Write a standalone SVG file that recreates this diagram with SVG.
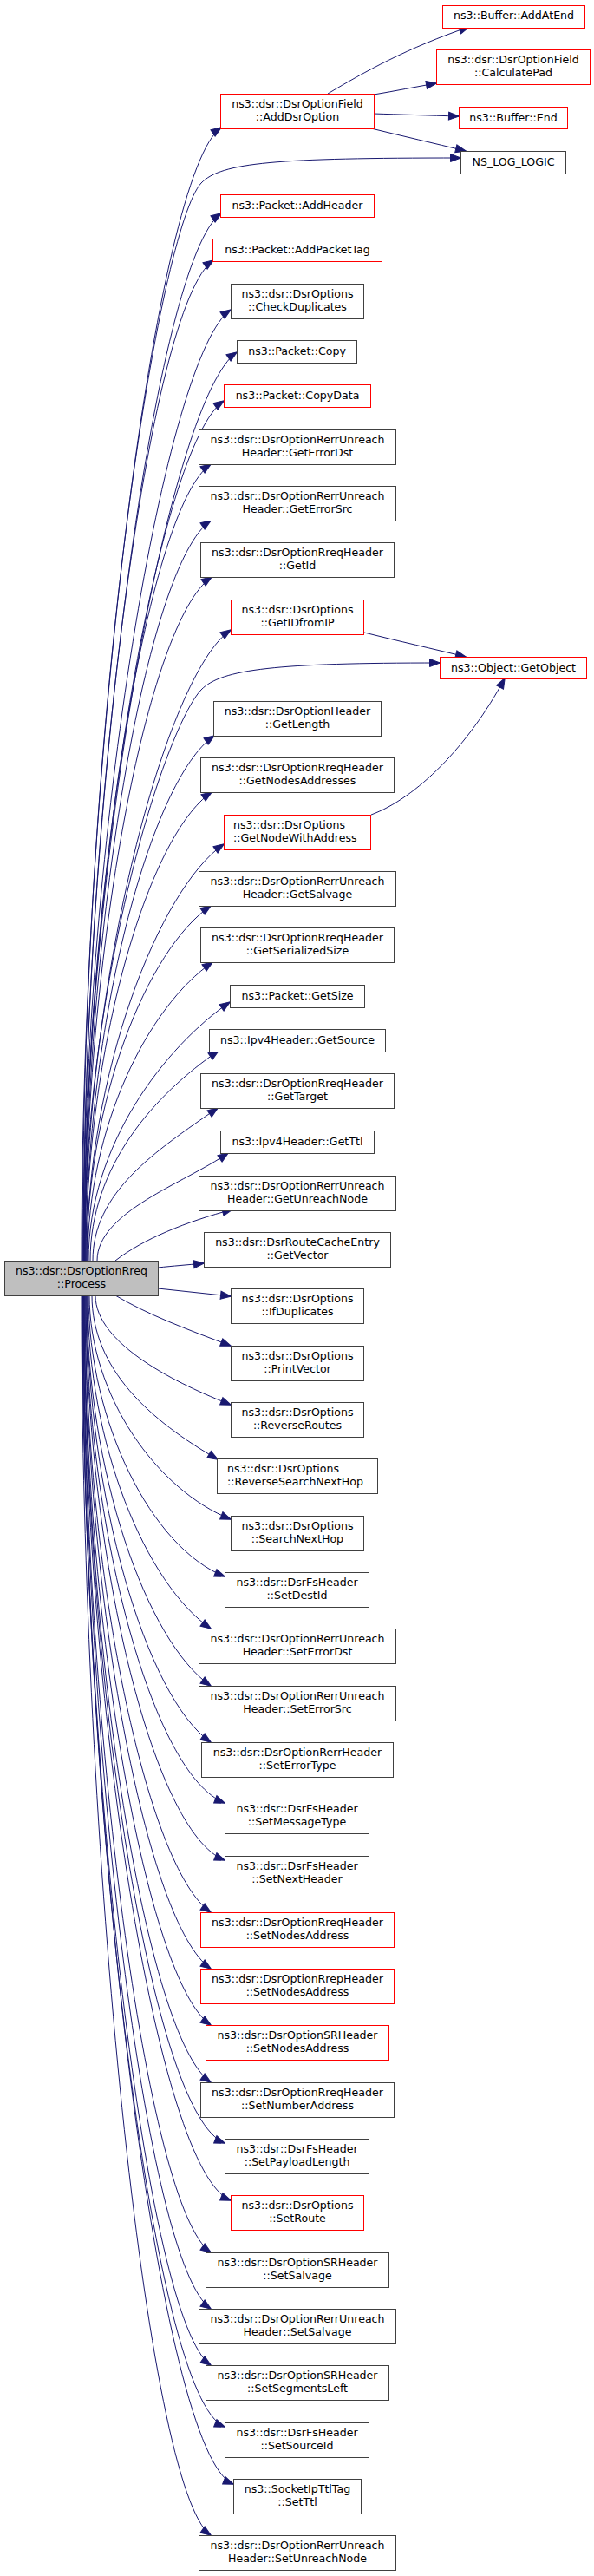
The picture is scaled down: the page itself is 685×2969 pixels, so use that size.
<svg xmlns="http://www.w3.org/2000/svg" width="685" height="2969" viewBox="0 0 685 2969">
<style>
.node rect{fill:#ffffff;stroke:#404040;stroke-width:1}
.node.red rect{stroke:#ff0000}
.node.main rect{fill:#bfbfbf;stroke:#404040}
.node text{font-family:"DejaVu Sans","Liberation Sans",sans-serif;font-size:12.6px;fill:#000000;text-anchor:middle}
.node text.l{text-anchor:start}
.edges path{fill:none;stroke:#191970;stroke-width:1;marker-end:url(#arr)}
</style>
<defs>
<marker id="arr" viewBox="0 0 12 9" refX="11.5" refY="4.5" markerWidth="12" markerHeight="9" markerUnits="userSpaceOnUse" orient="auto" overflow="visible">
<path d="M0,0 L12,4.5 L0,9 z" fill="#191970" stroke="#191970" stroke-width="1"/>
</marker>
</defs>
<rect x="0" y="0" width="685" height="2969" fill="#ffffff"/>
<g id="edges" class="edges">
<path d="M94,1453 C94,865 181,198 255,147"/>
<path d="M95,1453 C95,800 185,262 232,211 C255,187 320,182 531,182"/>
<path d="M96,1453 C96,910 181,297 255,246"/>
<path d="M96,1453 C96,934 172,351 246,300"/>
<path d="M96,1453 C96,960 192,408 266,357"/>
<path d="M97,1453 C97,982 199,457 273,406"/>
<path d="M97,1453 C97,1007 184,513 258,462"/>
<path d="M97,1453 C97,1040 169,586 243,535"/>
<path d="M98,1453 C98,1069 169,651 243,600"/>
<path d="M98,1453 C98,1098 170,716 244,665"/>
<path d="M98,1453 C98,1126 192,777 266,726"/>
<path d="M97,1453 C97,1130 190,840 232,795 C255,771 320,764 507,764"/>
<path d="M99,1453 C99,1181 173,899 247,848"/>
<path d="M99,1453 C99,1210 170,964 244,913"/>
<path d="M100,1453 C100,1237 184,1024 258,973"/>
<path d="M100,1453 C100,1269 169,1095 243,1044"/>
<path d="M101,1453 C101,1298 171,1160 245,1109"/>
<path d="M102,1453 C102,1319 191,1206 265,1155"/>
<path d="M104,1453 C104,1344 178,1262 252,1211"/>
<path d="M107,1453 C107,1374 179,1327 251,1277"/>
<path d="M112,1453 C112,1397 212,1364 263,1329"/>
<path d="M133,1453 C165,1428 215,1408 268,1394"/>
<path d="M182,1461 C200,1459 215,1458 235,1456"/>
<path d="M182,1485 C210,1488 238,1491 266,1494"/>
<path d="M133,1493 C170,1515 215,1532 266,1551"/>
<path d="M110,1493 C110,1550 207,1596 266,1619"/>
<path d="M106,1493 C106,1578 173,1637 251,1682"/>
<path d="M103,1493 C103,1609 182,1718 266,1751"/>
<path d="M102,1493 C102,1639 175,1784 259,1817"/>
<path d="M101,1493 C101,1666 169,1826 243,1877"/>
<path d="M100,1493 C100,1696 169,1892 243,1943"/>
<path d="M100,1493 C100,1725 169,1957 243,2008"/>
<path d="M99,1493 C99,1756 175,2045 259,2078"/>
<path d="M99,1493 C99,1786 175,2111 259,2144"/>
<path d="M98,1493 C98,1813 169,2153 243,2204"/>
<path d="M98,1493 C98,1842 169,2218 243,2269"/>
<path d="M97,1493 C97,1871 169,2283 243,2334"/>
<path d="M97,1493 C97,1901 169,2349 243,2400"/>
<path d="M97,1493 C97,1933 175,2437 259,2470"/>
<path d="M96,1493 C96,1962 182,2503 266,2536"/>
<path d="M96,1493 C96,1989 169,2545 243,2596"/>
<path d="M96,1493 C96,2019 169,2610 243,2661"/>
<path d="M95,1493 C95,2048 169,2675 243,2726"/>
<path d="M95,1493 C95,2080 175,2764 259,2797"/>
<path d="M95,1493 C95,2110 185,2830 269,2863"/>
<path d="M94,1493 C94,2136 169,2871 243,2922"/>
<path d="M378,108 C420,83 470,55 541,31"/>
<path d="M431,109 C455,105 480,100 503,96"/>
<path d="M431,131 C460,132 495,133 529,134"/>
<path d="M428,148 C465,157 500,165 537,174"/>
<path d="M420,729 C460,739 500,748 537,757"/>
<path d="M428,939 C480,920 540,860 582,782"/>
</g>
<g id="n_addatend" class="node red"><rect x="510.5" y="6.5" width="164" height="26"/><text x="592.5" y="22.2">ns3::Buffer::AddAtEnd</text></g>
<g id="n_calculatepad" class="node red"><rect x="503.5" y="57.5" width="177" height="40"/><text x="592" y="73">ns3::dsr::DsrOptionField</text><text x="592" y="87.7">::CalculatePad</text></g>
<g id="n_adddsroption" class="node red"><rect x="254.5" y="108.5" width="177" height="40"/><text x="343" y="124">ns3::dsr::DsrOptionField</text><text x="343" y="138.7">::AddDsrOption</text></g>
<g id="n_bufferend" class="node red"><rect x="529.5" y="123.5" width="125" height="25"/><text x="592" y="139.5">ns3::Buffer::End</text></g>
<g id="n_nsloglogic" class="node"><rect x="531.5" y="174.5" width="121" height="26"/><text x="592" y="190.7">NS_LOG_LOGIC</text></g>
<g id="n_addheader" class="node red"><rect x="254.5" y="224.5" width="177" height="26"/><text x="343" y="240.7">ns3::Packet::AddHeader</text></g>
<g id="n_addpackettag" class="node red"><rect x="245.5" y="275.5" width="195" height="26"/><text x="343" y="291.7">ns3::Packet::AddPacketTag</text></g>
<g id="n_checkduplicates" class="node"><rect x="266.5" y="327.5" width="153" height="40"/><text x="343" y="343">ns3::dsr::DsrOptions</text><text x="343" y="357.7">::CheckDuplicates</text></g>
<g id="n_copy" class="node"><rect x="273.5" y="392.5" width="138" height="26"/><text x="342.5" y="408.7">ns3::Packet::Copy</text></g>
<g id="n_copydata" class="node red"><rect x="258.5" y="443.5" width="169" height="26"/><text x="343" y="459.7">ns3::Packet::CopyData</text></g>
<g id="n_geterrordst" class="node"><rect x="229.5" y="495.5" width="227" height="40"/><text x="343" y="511">ns3::dsr::DsrOptionRerrUnreach</text><text x="343" y="525.7">Header::GetErrorDst</text></g>
<g id="n_geterrorsrc" class="node"><rect x="229.5" y="560.5" width="227" height="40"/><text x="343" y="576">ns3::dsr::DsrOptionRerrUnreach</text><text x="343" y="590.7">Header::GetErrorSrc</text></g>
<g id="n_getid" class="node"><rect x="231.5" y="625.5" width="223" height="40"/><text x="343" y="641">ns3::dsr::DsrOptionRreqHeader</text><text x="343" y="655.7">::GetId</text></g>
<g id="n_getidfromip" class="node red"><rect x="266.5" y="691.5" width="153" height="40"/><text x="343" y="707">ns3::dsr::DsrOptions</text><text x="343" y="721.7">::GetIDfromIP</text></g>
<g id="n_getobject" class="node red"><rect x="507.5" y="757.5" width="169" height="25"/><text x="592" y="773.5">ns3::Object::GetObject</text></g>
<g id="n_getlength" class="node"><rect x="246.5" y="808.5" width="193" height="40"/><text x="343" y="824">ns3::dsr::DsrOptionHeader</text><text x="343" y="838.7">::GetLength</text></g>
<g id="n_getnodesaddresses" class="node"><rect x="231.5" y="873.5" width="223" height="40"/><text x="343" y="889">ns3::dsr::DsrOptionRreqHeader</text><text x="343" y="903.7">::GetNodesAddresses</text></g>
<g id="n_getnodewithaddress" class="node red"><rect x="258.5" y="939.5" width="169" height="40"/><text class="l" x="269" y="955">ns3::dsr::DsrOptions</text><text class="l" x="269" y="969.7">::GetNodeWithAddress</text></g>
<g id="n_getsalvage" class="node"><rect x="229.5" y="1004.5" width="227" height="40"/><text x="343" y="1020">ns3::dsr::DsrOptionRerrUnreach</text><text x="343" y="1034.7">Header::GetSalvage</text></g>
<g id="n_getserializedsize" class="node"><rect x="231.5" y="1069.5" width="223" height="40"/><text x="343" y="1085">ns3::dsr::DsrOptionRreqHeader</text><text x="343" y="1099.7">::GetSerializedSize</text></g>
<g id="n_getsize" class="node"><rect x="265.5" y="1135.5" width="155" height="26"/><text x="343" y="1151.7">ns3::Packet::GetSize</text></g>
<g id="n_getsource" class="node"><rect x="241.5" y="1186.5" width="203" height="26"/><text x="343" y="1202.7">ns3::Ipv4Header::GetSource</text></g>
<g id="n_gettarget" class="node"><rect x="231.5" y="1237.5" width="223" height="40"/><text x="343" y="1253">ns3::dsr::DsrOptionRreqHeader</text><text x="343" y="1267.7">::GetTarget</text></g>
<g id="n_getttl" class="node"><rect x="254.5" y="1303.5" width="177" height="26"/><text x="343" y="1319.7">ns3::Ipv4Header::GetTtl</text></g>
<g id="n_getunreachnode" class="node"><rect x="229.5" y="1355.5" width="227" height="40"/><text x="343" y="1371">ns3::dsr::DsrOptionRerrUnreach</text><text x="343" y="1385.7">Header::GetUnreachNode</text></g>
<g id="n_getvector" class="node"><rect x="235.5" y="1420.5" width="215" height="40"/><text x="343" y="1436">ns3::dsr::DsrRouteCacheEntry</text><text x="343" y="1450.7">::GetVector</text></g>
<g id="n_process" class="node main"><rect x="5.5" y="1453.5" width="177" height="40"/><text x="94" y="1469">ns3::dsr::DsrOptionRreq</text><text x="94" y="1483.7">::Process</text></g>
<g id="n_ifduplicates" class="node"><rect x="266.5" y="1485.5" width="153" height="40"/><text x="343" y="1501">ns3::dsr::DsrOptions</text><text x="343" y="1515.7">::IfDuplicates</text></g>
<g id="n_printvector" class="node"><rect x="266.5" y="1551.5" width="153" height="40"/><text x="343" y="1567">ns3::dsr::DsrOptions</text><text x="343" y="1581.7">::PrintVector</text></g>
<g id="n_reverseroutes" class="node"><rect x="266.5" y="1616.5" width="153" height="40"/><text x="343" y="1632">ns3::dsr::DsrOptions</text><text x="343" y="1646.7">::ReverseRoutes</text></g>
<g id="n_reversesearchnexthop" class="node"><rect x="250.5" y="1681.5" width="185" height="40"/><text class="l" x="262" y="1697">ns3::dsr::DsrOptions</text><text class="l" x="262" y="1711.7">::ReverseSearchNextHop</text></g>
<g id="n_searchnexthop" class="node"><rect x="266.5" y="1747.5" width="153" height="40"/><text x="343" y="1763">ns3::dsr::DsrOptions</text><text x="343" y="1777.7">::SearchNextHop</text></g>
<g id="n_setdestid" class="node"><rect x="259.5" y="1812.5" width="166" height="40"/><text x="342.5" y="1828">ns3::dsr::DsrFsHeader</text><text x="342.5" y="1842.7">::SetDestId</text></g>
<g id="n_seterrordst" class="node"><rect x="229.5" y="1877.5" width="227" height="40"/><text x="343" y="1893">ns3::dsr::DsrOptionRerrUnreach</text><text x="343" y="1907.7">Header::SetErrorDst</text></g>
<g id="n_seterrorsrc" class="node"><rect x="229.5" y="1943.5" width="227" height="40"/><text x="343" y="1959">ns3::dsr::DsrOptionRerrUnreach</text><text x="343" y="1973.7">Header::SetErrorSrc</text></g>
<g id="n_seterrortype" class="node"><rect x="232.5" y="2008.5" width="221" height="40"/><text x="343" y="2024">ns3::dsr::DsrOptionRerrHeader</text><text x="343" y="2038.7">::SetErrorType</text></g>
<g id="n_setmessagetype" class="node"><rect x="259.5" y="2073.5" width="166" height="40"/><text x="342.5" y="2089">ns3::dsr::DsrFsHeader</text><text x="342.5" y="2103.7">::SetMessageType</text></g>
<g id="n_setnextheader" class="node"><rect x="259.5" y="2139.5" width="166" height="40"/><text x="342.5" y="2155">ns3::dsr::DsrFsHeader</text><text x="342.5" y="2169.7">::SetNextHeader</text></g>
<g id="n_rreq_setnodesaddress" class="node red"><rect x="231.5" y="2204.5" width="223" height="40"/><text x="343" y="2220">ns3::dsr::DsrOptionRreqHeader</text><text x="343" y="2234.7">::SetNodesAddress</text></g>
<g id="n_rrep_setnodesaddress" class="node red"><rect x="231.5" y="2269.5" width="223" height="40"/><text x="343" y="2285">ns3::dsr::DsrOptionRrepHeader</text><text x="343" y="2299.7">::SetNodesAddress</text></g>
<g id="n_sr_setnodesaddress" class="node red"><rect x="237.5" y="2334.5" width="211" height="40"/><text x="343" y="2350">ns3::dsr::DsrOptionSRHeader</text><text x="343" y="2364.7">::SetNodesAddress</text></g>
<g id="n_setnumberaddress" class="node"><rect x="231.5" y="2400.5" width="223" height="40"/><text x="343" y="2416">ns3::dsr::DsrOptionRreqHeader</text><text x="343" y="2430.7">::SetNumberAddress</text></g>
<g id="n_setpayloadlength" class="node"><rect x="259.5" y="2465.5" width="166" height="40"/><text x="342.5" y="2481">ns3::dsr::DsrFsHeader</text><text x="342.5" y="2495.7">::SetPayloadLength</text></g>
<g id="n_setroute" class="node red"><rect x="266.5" y="2530.5" width="153" height="40"/><text x="343" y="2546">ns3::dsr::DsrOptions</text><text x="343" y="2560.7">::SetRoute</text></g>
<g id="n_sr_setsalvage" class="node"><rect x="237.5" y="2596.5" width="211" height="40"/><text x="343" y="2612">ns3::dsr::DsrOptionSRHeader</text><text x="343" y="2626.7">::SetSalvage</text></g>
<g id="n_rerr_setsalvage" class="node"><rect x="229.5" y="2661.5" width="227" height="40"/><text x="343" y="2677">ns3::dsr::DsrOptionRerrUnreach</text><text x="343" y="2691.7">Header::SetSalvage</text></g>
<g id="n_setsegmentsleft" class="node"><rect x="237.5" y="2726.5" width="211" height="40"/><text x="343" y="2742">ns3::dsr::DsrOptionSRHeader</text><text x="343" y="2756.7">::SetSegmentsLeft</text></g>
<g id="n_setsourceid" class="node"><rect x="259.5" y="2792.5" width="166" height="40"/><text x="342.5" y="2808">ns3::dsr::DsrFsHeader</text><text x="342.5" y="2822.7">::SetSourceId</text></g>
<g id="n_setttl" class="node"><rect x="269.5" y="2857.5" width="147" height="40"/><text x="343" y="2873">ns3::SocketIpTtlTag</text><text x="343" y="2887.7">::SetTtl</text></g>
<g id="n_setunreachnode" class="node"><rect x="229.5" y="2922.5" width="227" height="40"/><text x="343" y="2938">ns3::dsr::DsrOptionRerrUnreach</text><text x="343" y="2952.7">Header::SetUnreachNode</text></g>
</svg>
